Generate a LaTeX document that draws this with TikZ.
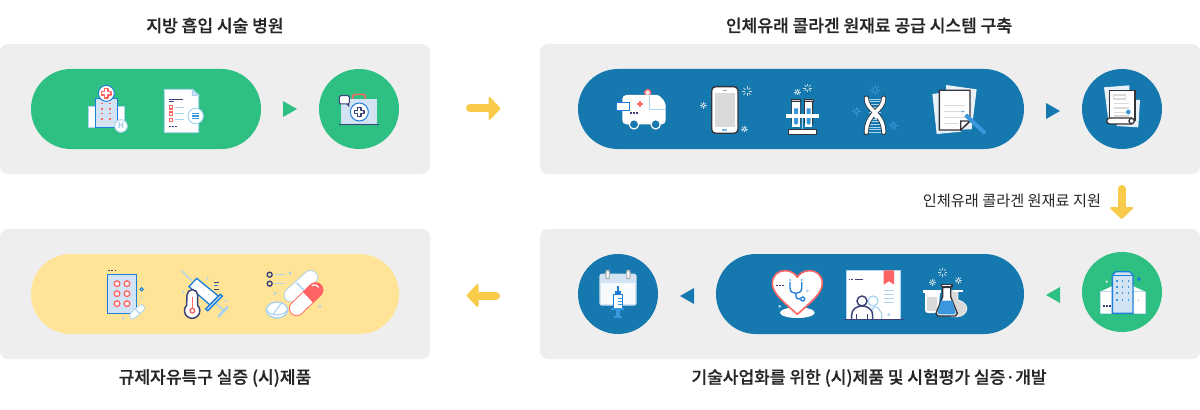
\documentclass[tikz,border=0pt]{standalone}
\usepackage{fontspec}
\setmainfont{Noto Sans CJK KR}
\newfontfamily\medfont[FakeBold=0.5]{Noto Sans CJK KR Medium}
\usetikzlibrary{calc}
\definecolor{panelc}{HTML}{EEEEEE}
\definecolor{greenc}{HTML}{2EC082}
\definecolor{bluec}{HTML}{1578AE}
\definecolor{pillc}{HTML}{FFE497}
\definecolor{arrowc}{HTML}{F8CC4A}
\definecolor{redc}{HTML}{FF6464}
\definecolor{paleb}{HTML}{D2E3F4}
\definecolor{lightb}{HTML}{A9D3EE}
\definecolor{midb}{HTML}{1E7FD8}
\definecolor{skyb}{HTML}{3A97DC}
\definecolor{navyc}{HTML}{3C4279}
\definecolor{darkc}{HTML}{333338}
\definecolor{grayc}{HTML}{DADADA}
\definecolor{gearc}{HTML}{C8DCE8}
\tikzset{
  panel/.style={fill=panelc,rounded corners=6pt,inner sep=0pt,outer sep=0pt},
  pillbar/.style={rounded corners=29.9pt,inner sep=0pt,outer sep=0pt,minimum height=60pt},
  disc/.style={circle,inner sep=0pt,outer sep=0pt,minimum size=60pt},
  title/.style={font=\fontsize{12.8pt}{14pt}\medfont,text=black!85,inner sep=0pt},
  sublabel/.style={font=\fontsize{11.4pt}{13pt}\selectfont,text=black!85,inner sep=0pt},
  frame/.style={scale=1/3},
  thin line/.style={line width=.75pt},
  fat/.style={arrowc,line width=6pt,line cap=round},
  head/.style={fill=arrowc,draw=arrowc,line width=1.5pt,line join=round},
}
\newcommand{\triR}[4]{\fill[#4] ($(#1)!.5!(#2)$) ++(-7,#3-8) -- ++(14,8) -- ++(-14,8) -- cycle;}
\newcommand{\triL}[4]{\fill[#4] ($(#1)!.5!(#2)$) ++(7,#3-8) -- ++(-14,8) -- ++(14,8) -- cycle;}
\newcommand{\gearI}[4]{\begin{scope}[shift={(#1,#2)}]
  \draw[#4,line width=.5pt] (0,0) circle[radius=.45*#3];
  \foreach \a in {0,45,...,315}{\draw[#4,line width=.5pt] (\a:.45*#3) -- (\a:#3);}
\end{scope}}
\newcommand{\sparkI}[4]{\begin{scope}[shift={(#1,#2)}]
  \foreach \a in {0,45,...,315}{\draw[#4,line width=.5pt] (\a:.4*#3) -- (\a:#3);}
\end{scope}}
\newcommand{\capsI}[6]{% x1,y1,x2,y2,width,border
  \draw[#6,line width=#5*.25pt,line cap=round] (#1,#2) -- (#3,#4);
  \draw[white,line width=#5*.25pt-1.4pt,line cap=round] (#1,#2) -- (#3,#4);}
\newcommand{\crossI}[5]{% x,y,half long,half short,style
  \draw[#5,line join=round] (#1-#4,#2-#3) -- (#1+#4,#2-#3) -- (#1+#4,#2-#4) -- (#1+#3,#2-#4) -- (#1+#3,#2+#4) -- (#1+#4,#2+#4) -- (#1+#4,#2+#3) -- (#1-#4,#2+#3) -- (#1-#4,#2+#4) -- (#1-#3,#2+#4) -- (#1-#3,#2-#4) -- (#1-#4,#2-#4) -- cycle;}
\begin{document}
\begin{tikzpicture}[x=.75pt,y=-.75pt]
\useasboundingbox (0,0) rectangle (1200,410);
% panels
\node[panel,minimum width=322.5pt,minimum height=97.5pt] (p1) at (215,109) {};
\node[panel,minimum width=495pt,minimum height=97.5pt] (p2) at (870,109) {};
\node[panel,minimum width=322.5pt,minimum height=97.5pt] (p3) at (215,294) {};
\node[panel,minimum width=495pt,minimum height=97.5pt] (p4) at (870,294) {};
% pills and discs
\node[pillbar,fill=greenc,minimum width=172.5pt] (g1) at (146,109) {};
\node[disc,fill=greenc] (c1) at (359,109) {};
\node[pillbar,fill=bluec,minimum width=334.5pt] (b1) at (801,109) {};
\node[disc,fill=bluec] (c2) at (1122,109) {};
\node[pillbar,fill=pillc,minimum width=276pt] (y1) at (215,294) {};
\node[pillbar,fill=bluec,minimum width=231pt] (b2) at (870,294) {};
\node[disc,fill=bluec] (c3) at (618,294) {};
\node[disc,fill=greenc] (c4) at (1122,292) {};
% small triangles
\triR{g1.east}{c1.west}{0}{greenc}
\triR{b1.east}{c2.west}{2}{bluec}
\triL{c3.east}{b2.west}{2}{bluec}
\triL{b2.east}{c4.west}{2}{greenc}
% yellow arrows
\coordinate (a1s) at (470,108.5); \coordinate (a1e) at (490,108.5);
\draw[fat] (a1s) -- (a1e);
\draw[head] (a1e) ++(-.5,-10.5) -- ++(10,10.5) -- ++(-10,10.5) -- cycle;
\coordinate (a2s) at (1121.7,189); \coordinate (a2e) at (1121.7,208);
\draw[fat] (a2s) -- (a2e);
\draw[head] (a2e) ++(-10.5,0) -- ++(21,0) -- ++(-10.5,10) -- cycle;
\coordinate (a3s) at (496,295.5); \coordinate (a3e) at (477,295.5);
\draw[fat] (a3s) -- (a3e);
\draw[head] (a3e) ++(.5,-10.5) -- ++(-10,10.5) -- ++(10,10.5) -- cycle;
% texts
\node[title] (t1) at (215,25.5) {지방 흡입 시술 병원};
\node[title] (t2) at (869,25.5) {인체유래 콜라겐 원재료 공급 시스템 구축};
\node[title] (t3) at (215,378) {규제자유특구 실증 (시)제품};
\node[title] (t4) at (869,378) {기술사업화를 위한 (시)제품 및 시험평가 실증·개발};
\node[sublabel] (t5) at (1012,201) {인체유래 콜라겐 원재료 지원};

% ---------- frame 1: green ----------
\begin{scope}[shift={(60,60)},frame]
 % hospital
 \draw[lightb,fill=white,thin line] (85,140) rectangle (193,203);
 \draw[midb,fill=paleb,thin line] (107,115) rectangle (172,202);
 \foreach \y in {131,147,161,177}{\foreach \x in {127,151}{\fill[redc] (\x-3,\y-2) rectangle (\x+3,\y+2);}}
 \draw[midb,fill=white,thin line] (139,100) circle[radius=24];
 \crossI{139}{100}{14}{5}{redc,line width=.9pt}
 \draw[lightb,fill=white,thin line] (183,198) circle[radius=19];
 \node[font=\fontsize{6pt}{6pt}\selectfont\bfseries,text=lightb,inner sep=0pt] (hh) at (183,198) {H};
 % document
 \draw[lightb,fill=white,thin line] (313,88) -- (397,88) -- (416,106) -- (416,218) -- (313,218) -- cycle;
 \draw[lightb,fill=paleb,thin line] (397,88) -- (397,106) -- (416,106) -- cycle;
 \draw[navyc,thin line] (327,118) -- (368,118);
 \draw[navyc,thin line] (327,125) -- (342,125);
 \foreach \y in {142,161,180}{
  \draw[redc,line width=1pt] (328,\y-5) rectangle (338,\y+5);
  \draw[lightb,thin line] (345,\y) -- (372,\y);}
 \foreach \x in {330,339,348}{\fill[navyc] (\x-2,198) rectangle (\x+2,202);}
 \draw[lightb,fill=white,thin line] (407,168) circle[radius=23];
 \foreach \y in {160,168,176}{\draw[skyb,line width=1pt] (397,\y) -- (417,\y);}
 % briefcase
 \draw[redc,line width=1.2pt,rounded corners=2pt] (878,118) -- (878,103) -- (916,103) -- (916,118);
 \draw[lightb!60!white,fill=paleb,line width=1pt] (845,118) rectangle (950,190);
 \draw[midb,fill=white,thin line] (898,156) circle[radius=27];
 \crossI{898}{156}{14}{5}{navyc,line width=.9pt}
 \draw[navyc,line width=1pt] (838,193) -- (956,193);
 \draw[navyc,fill=white,thin line,rounded corners=1pt] (838,107) rectangle (868,132);
 \fill[navyc] (858,132) -- (868,142) -- (868,132) -- cycle;
\end{scope}

% ---------- frame 2: blue top left ----------
\begin{scope}[shift={(590,70)},frame]
 % ambulance
 \draw[redc,fill=white,line width=1pt] (173,68) circle[radius=9];
 \fill[white,rounded corners=3pt] (97,75) -- (190,75) .. controls (210,75) and (227,95) .. (227,118) -- (227,163) -- (97,163) -- cycle;
 \draw[lightb,thin line] (177,75) -- (177,118) -- (227,118);
 \fill[redc] (147,93) rectangle (153,111);
 \fill[redc] (141,99) rectangle (160,105);
 \draw[midb,fill=white,thin line] (79,97) rectangle (118,122);
 \fill[midb] (88,122) -- (88,128) -- (96,122) -- cycle;
 \foreach \x in {122,131,140}{\fill[navyc] (\x-2.5,127) rectangle (\x+2.5,131);}
 \draw[white,fill=bluec,line width=.9pt] (132,163) circle[radius=14];
 \draw[white,fill=bluec,line width=.9pt] (197,163) circle[radius=14];
 % phone
 \draw[darkc,fill=white,line width=1pt,rounded corners=3pt] (365,50) rectangle (444,190);
 \fill[grayc] (374,68) rectangle (436,170);
 \fill[gray!70] (398,59) rectangle (412,62);
 \fill[skyb!70] (397,177) rectangle (412,182);
 \sparkI{471}{64}{15}{gearc}
 \gearI{340}{106}{10}{gearc}
 \gearI{463}{177}{10}{gearc}
 % tubes
 \sparkI{653}{54}{13}{gearc}
 \gearI{622}{66}{10}{gearc}
 \draw[lightb,line width=1pt] (637,145) -- (637,178);
 \foreach \x in {618,656}{
  \draw[darkc,fill=white,line width=.8pt] (\x-12,92) -- (\x-12,158) arc[start angle=180,end angle=0,radius=12] -- (\x+12,92);
  \fill[white] (\x-11,92) rectangle (\x+11,170);
  \fill[skyb] (\x-6,115) -- (\x+6,115) -- (\x+6,158) arc[start angle=0,end angle=180,radius=6] -- cycle;
  \draw[darkc,fill=gray!40,line width=.7pt] (\x-14,87) rectangle (\x+14,94);}
 \fill[white] (589,132) rectangle (686,145);
 \draw[darkc,fill=white,line width=.9pt] (596,178) rectangle (680,194);
 % dna
 \gearI{855}{60}{15}{skyb}
 \gearI{799}{124}{13}{skyb}
 \foreach \y in {88,96,104,112,120,128,148,156,164,172,180,188}{\draw[lightb,thin line] (836,\y) -- (874,\y);}
 \foreach \c/\w in {darkc/3.8pt,white/2.6pt}{
  \draw[\c,line width=\w,line cap=round] (829,84) .. controls (829,125) and (881,125) .. (881,188);
  \draw[\c,line width=\w,line cap=round] (881,84) .. controls (881,125) and (829,125) .. (829,188);}
 \draw[white,line width=2.6pt] (848,128) -- (862,144);
\end{scope}

% ---------- frame 3: blue top right ----------
\begin{scope}[shift={(890,70)},frame]
 \gearI{10}{167}{13}{skyb}
 % papers
 \fill[white!90!bluec] (127,72) -- (150,69) -- (215,185) -- (140,192) -- cycle;
 \fill[white!90!bluec] (168,45) -- (260,58) -- (245,178) -- (170,180) -- cycle;
 \draw[darkc,fill=white,line width=1pt] (148,61) -- (240,61) -- (240,153) -- (212,180) -- (148,180) -- cycle;
 \foreach \y in {106,124,142}{\draw[grayc,line width=1.1pt] (163,\y) -- (225,\y);}
 \draw[grayc,line width=1.1pt] (163,160) -- (205,160);
 \draw[darkc,fill=white,line width=1pt] (212,153) -- (240,153) -- (212,180) -- cycle;
 \draw[skyb,line width=3pt] (227,135) -- (285,190);
 \fill[skyb] (218,125) circle[radius=3];
 % scroll
 \fill[white!90!bluec] (642,52) -- (718,46) -- (720,150) -- (655,150) -- cycle;
 \fill[white!90!bluec] (690,90) -- (750,90) -- (745,172) -- (680,168) -- cycle;
 \draw[darkc,fill=white,line width=1pt] (659,61) -- (735,61) -- (735,152) -- (659,152) -- cycle;
 \draw[grayc,line width=.9pt] (671,75) rectangle (706,87);
 \foreach \y in {100,114,128,138}{\draw[grayc,line width=.9pt] (671,\y) -- (718,\y);}
 \fill[skyb] (715,126) circle[radius=7];
 \draw[darkc,fill=white,line width=1pt] (725,144) -- (659,144) arc[start angle=270,end angle=90,radius=9] -- (725,162) -- cycle;
 \draw[darkc,fill=white,line width=1pt] (725,153) circle[radius=8];
\end{scope}

% ---------- frame 4: yellow ----------
\begin{scope}[shift={(90,260)},frame]
 % pack
 \foreach \x in {56,66,76}{\fill[navyc] (\x-2.5,29) rectangle (\x+2.5,33);}
 \draw[midb,fill=paleb,line width=1pt] (52,43) rectangle (140,160);
 \foreach \y in {71,101,131}{\foreach \x in {81,111}{\draw[redc,fill=white,line width=1pt] (\x,\y) circle[radius=8.5];}}
 \draw[midb,thin line,fill=pillc] (155,88) circle[radius=5];
 \capsI{128}{167}{154}{144}{22}{lightb}
 \draw[lightb,line width=.8pt] (136,147) -- (150,162);
 \fill[lightb] (100,175) circle[radius=4];
 \fill[lightb] (155,112) circle[radius=3];
 % syringe
 \draw[lightb,line width=1pt] (275,32) -- (305,62);
 \draw[lightb,line width=1.2pt] (375,128) -- (405,155);
 \draw[lightb,line width=2pt] (385,170) -- (413,140);
 \draw[midb,fill=white,line width=1pt] (297,80) -- (320,55) -- (385,108) -- (360,135) -- cycle;
 \draw[midb,fill=paleb,line width=1pt] (347,147) -- (353,152) -- (397,108) -- (391,103) -- cycle;
 \foreach \p in {(325,77),(340,90),(355,103)}{\fill[lightb] \p circle[radius=2];}
 \draw[navyc,thin line] (372,67) -- (388,67);
 \draw[midb,thin line] (372,77) -- (385,77);
 \draw[navyc,thin line] (372,87) -- (388,87);
 \fill[lightb] (352,55) circle[radius=4];
 \fill[lightb] (280,97) circle[radius=4];
 \fill[lightb] (407,122) circle[radius=4];
 % thermometer
 \draw[navyc,fill=white,line width=1.1pt] (291,105) arc[start angle=180,end angle=360,radius=16] -- (323,136) arc[start angle=-44,end angle=224,radius=23] -- cycle;
 \draw[redc,line width=1pt] (307,110) -- (307,145);
 \draw[redc,line width=1pt] (307,152) circle[radius=7];
 % pills group
 \foreach \y in {44,71}{\draw[navyc,line width=1pt] (539,\y) circle[radius=7.5];
  \draw[lightb,line width=1pt] (556,\y) -- (585,\y);}
 \fill[lightb] (600,40) circle[radius=4.5];
 \fill[lightb] (555,100) circle[radius=4.5];
 \fill[lightb] (690,140) circle[radius=4.5];
 \capsI{603}{105}{662}{52}{44}{lightb}
 \draw[lightb,line width=1pt] (620,68) -- (650,100);
 \draw[lightb,fill=white,line width=1pt] (561,150) ellipse[x radius=32,y radius=24];
 \draw[lightb,line width=.8pt] (529,145) arc[start angle=180,end angle=0,x radius=32,y radius=20];
 \draw[lightb,line width=.8pt] (548,165) -- (575,128);
 \capsI{620}{145}{677}{90}{46}{redc}
 \begin{scope}
  \clip (598,60) -- (645,102) -- (685,145) -- (720,110) -- (680,50) -- cycle;
  \draw[redc,line width=11.5pt,line cap=round] (620,145) -- (677,90);
 \end{scope}
 \draw[white,line width=.9pt] (665,78) .. controls (672,72) and (682,74) .. (686,82);
\end{scope}

% ---------- frame 5: bottom blue left ----------
\begin{scope}[shift={(570,250)},frame]
 % calendar
 \fill[paleb,rounded corners=2pt] (88,71) rectangle (200,167);
 \fill[white!85!paleb] (94,100) rectangle (194,163);
 \foreach \x in {113,175}{\draw[gray!60,fill=white,line width=.8pt,rounded corners=1.5pt] (\x-5,61) rectangle (\x+5,86);}
 \foreach \y/\w in {111/15,121/22,131/15}{\draw[white,line width=.8pt] (165,\y) -- (165+\w,\y);}
 \fill[midb] (141,108) rectangle (147,122);
 \fill[midb] (134,122) rectangle (154,134);
 \draw[midb,fill=white,thin line] (130,134) rectangle (158,174);
 \foreach \y in {144,154,164}{\draw[skyb,line width=.7pt] (145,\y) -- (156,\y);}
 \fill[skyb] (124,174) rectangle (163,181);
 \fill[skyb] (138,181) rectangle (150,197);
 \fill[skyb] (132,197) rectangle (156,205);
 % heart
 \fill[white] (682,188) ellipse[x radius=52,y radius=16];
 \fill[lightb] (629,169) circle[radius=4.5];
 \draw[redc,fill=white,line width=1.2pt,line join=round] (682,193) .. controls (640,155) and (607,130) .. (607,100) .. controls (607,75) and (625,62) .. (645,62) .. controls (662,62) and (675,70) .. (682,82) .. controls (689,70) and (702,62) .. (719,62) .. controls (739,62) and (757,75) .. (757,100) .. controls (757,130) and (724,155) .. (682,193) -- cycle;
 \foreach \x in {620,630,640}{\fill[navyc] (\x-3,104) rectangle (\x+3,108);}
 \draw[midb,line width=1pt] (660,96) -- (660,115) .. controls (660,135) and (695,135) .. (695,115) -- (695,96);
 \draw[midb,line width=1pt] (677,130) .. controls (677,146) and (684,150) .. (691,147);
 \draw[midb,fill=white,line width=1pt] (698,147) circle[radius=6];
 \fill[midb] (660,90) circle[radius=2.5];
 \fill[midb] (695,90) circle[radius=2.5];
 \fill[lightb] (712,122) circle[radius=4.5];
\end{scope}

% ---------- frame 6: bottom right ----------
\begin{scope}[shift={(880,250)},frame]
 % certificate + person (coordinates relative to frame 6)
 \fill[white] (-100,61) rectangle (62,206);
 \draw[lightb,thin line] (-100,206) -- (-100,61) -- (62,61) -- (62,206);
 \foreach \x in {-91,-84}{\fill[navyc] (\x-2,87) rectangle (\x+2,91);}
 \draw[navyc,thin line] (-76,89) -- (-50,89);
 \fill[redc] (11,61) -- (42,61) -- (42,104) -- (27,94) -- (11,104) -- cycle;
 \foreach \y in {121,133,145,157}{\draw[lightb,thin line] (12,\y) -- (42,\y);}
 \draw[lightb,line width=.9pt] (-21,153) circle[radius=15];
 \draw[lightb,line width=.9pt] (-25,207) -- (-25,180) .. controls (-20,170) and (-10,168) .. (-5,175) -- (5,190) -- (5,207);
 \draw[navyc,fill=white,line width=1.1pt] (-54,153) circle[radius=15];
 \draw[navyc,fill=white,line width=1.1pt] (-85,207) -- (-85,195) .. controls (-85,178) and (-70,168) .. (-54,168) .. controls (-38,168) and (-22,178) .. (-22,195) -- (-22,207);
 \draw[navyc,thin line] (-70,207) -- (-70,192);
 \draw[navyc,thin line] (-38,207) -- (-38,192);
 \draw[navyc,line width=1pt] (-108,208) -- (72,208);
 \fill[lightb] (26,194) circle[radius=4.5];
 % flasks
 \sparkI{188}{67}{14}{gearc}
 \gearI{157}{97}{11}{gearc}
 \gearI{235}{91}{11}{gearc}
 \draw[white!90!black,fill=white!85!black,line width=1pt] (233,122) -- (233,150) .. controls (250,155) and (260,165) .. (260,175) .. controls (260,190) and (245,199) .. (233,199) -- (215,199) -- (215,122) -- cycle;
 \fill[white] (220,120) rectangle (248,127);
 \fill[white] (135,127) -- (135,180) .. controls (135,186) and (138,189) .. (145,189) -- (175,189) -- (180,127) -- cycle;
 \fill[grayc] (141,140) rectangle (172,183);
 \fill[white] (129,121) rectangle (183,130);
 \draw[darkc,fill=white,line width=1pt,line join=round] (188,112) -- (212,112) -- (212,140) -- (232,190) -- (226,198) -- (174,198) -- (168,190) -- (188,140) -- cycle;
 \fill[skyb] (183,152) -- (217,152) -- (227,188) -- (223,193) -- (177,193) -- (173,188) -- cycle;
 \draw[darkc,fill=white,line width=.8pt] (184,103) rectangle (216,110);
 % building
 \fill[white] (661,125) -- (697,108) -- (697,190) -- (661,190) -- cycle;
 \fill[white] (759,108) -- (795,125) -- (795,190) -- (759,190) -- cycle;
 \draw[lightb!70!white,thin line] (661,125) -- (697,125);
 \draw[lightb!70!white,thin line] (759,125) -- (795,125);
 \draw[lightb!70!white,thin line] (795,125) -- (795,190) -- (661,190) -- (661,125);
 \draw[midb,fill=paleb,line width=1pt] (697,75) -- (707,65) -- (749,65) -- (759,75) -- (759,190) -- (697,190) -- cycle;
 \draw[midb,line width=.7pt] (697,75) -- (759,75);
 \foreach \y in {93,111,129,151}{\foreach \x in {711,727,745}{\fill[skyb] (\x-2,\y-3) rectangle (\x+2,\y+3);}}
 \foreach \x in {672,681,690}{\fill[navyc] (\x-3,165) rectangle (\x+3,170);}
 \fill[paleb] (775,151) circle[radius=4];
 \fill[paleb] (680,95) circle[radius=4];
 \draw[midb,line width=1pt] (771,88) -- (783,88);
 \draw[midb,line width=1pt] (777,82) -- (777,94);
\end{scope}
\end{tikzpicture}
\end{document}
